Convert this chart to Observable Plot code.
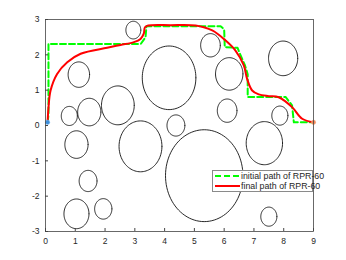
<!DOCTYPE html>
<html><head><meta charset="utf-8">
<script src="https://cdn.jsdelivr.net/npm/d3@7"></script>
<script src="https://cdn.jsdelivr.net/npm/@observablehq/plot@0.6"></script>
<style>
body{margin:0;background:#fff;}
#wrap{position:relative;width:346px;height:260px;font-family:"Liberation Sans",Arial,sans-serif;}
#legend{position:absolute;left:212px;top:170px;width:99px;height:20px;border:1px solid #8a8a8a;background:#fff;font-size:8.8px;color:#262626;}
.row{position:absolute;left:0;height:10px;width:100%;}
.row svg{position:absolute;left:1px;top:0;}
.row span{position:absolute;left:28px;top:0;line-height:10px;white-space:nowrap;}
</style></head>
<body><div id="wrap"><div id="chart"></div>
<div id="legend">
 <div class="row" style="top:0px"><svg width="27" height="10"><line x1="1" x2="26" y1="5" y2="5" stroke="#00ff00" stroke-width="2" stroke-dasharray="6,3"/></svg><span>initial path of RPR-60</span></div>
 <div class="row" style="top:10px"><svg width="27" height="10"><line x1="1" x2="26" y1="5" y2="5" stroke="#ff0000" stroke-width="2"/></svg><span>final path of RPR-60</span></div>
</div></div>
<script>
// obstacles: centers and radii
const circleX = [2.95, 1.12, 0.80, 1.47, 2.43, 4.15, 5.54, 6.17, 7.98, 6.10, 7.87, 4.38, 7.35, 5.33, 7.50, 1.04, 3.19, 1.43, 1.04, 1.94];
const circleY = [2.70, 1.44, 0.27, 0.38, 0.57, 1.35, 2.27, 1.46, 1.90, 0.42, 0.28, 0.00, -0.50, -1.42, -2.58, -0.54, -0.59, -1.57, -2.50, -2.36];
const circleR = [0.25, 0.36, 0.27, 0.39, 0.55, 0.90, 0.33, 0.46, 0.49, 0.33, 0.27, 0.30, 0.61, 1.30, 0.27, 0.39, 0.72, 0.30, 0.42, 0.29];

// initial (green dashed) path
const initialX = [0.07, 0.10, 0.10, 3.20, 3.36, 3.39, 5.88, 6.00, 6.02, 6.45, 6.52, 6.70, 6.79, 6.79, 8.06, 8.28, 8.34, 9.00];
const initialY = [0.09, 0.30, 2.31, 2.31, 2.50, 2.81, 2.81, 2.72, 2.22, 2.20, 2.05, 1.70, 1.45, 0.81, 0.81, 0.57, 0.09, 0.09];

// final (red) path
const finalX = [0.07, 0.10, 0.17, 0.39, 0.73, 1.18, 2.07, 2.52, 2.97, 3.19, 3.30, 3.34, 3.45, 4.20, 5.04, 5.60, 6.04, 6.38, 6.66, 6.77, 6.94, 7.16, 7.50, 7.83, 8.28, 8.62, 9.00];
const finalY = [0.09, 0.50, 0.99, 1.46, 1.79, 2.03, 2.20, 2.28, 2.36, 2.45, 2.60, 2.78, 2.83, 2.84, 2.83, 2.69, 2.41, 2.12, 1.70, 1.32, 0.99, 0.88, 0.83, 0.80, 0.52, 0.19, 0.09];

const startPoint = [0.07, 0.09];
const endPoint = [9.00, 0.09];

const xTicks = [0,1,2,3,4,5,6,7,8,9];
const yTicks = [-3,-2,-1,0,1,2,3];

const circlePts = [];
circleX.forEach((cx, i) => {
  for (let k = 0; k <= 96; k++) {
    const a = 2 * Math.PI * k / 96;
    circlePts.push({id: i, x: cx + circleR[i] * Math.cos(a), y: circleY[i] + circleR[i] * Math.sin(a)});
  }
});
const initial = initialX.map((x, i) => ({x, y: initialY[i]}));
const final = finalX.map((x, i) => ({x, y: finalY[i]}));

const chart = Plot.plot({
  width: 346, height: 260,
  marginLeft: 45, marginRight: 33, marginTop: 19, marginBottom: 29,
  style: {fontFamily: '"Liberation Sans", Arial, sans-serif', fontSize: "8.5px", color: "#262626", background: "#fff"},
  x: {domain: [0, 9]},
  y: {domain: [-3, 3]},
  marks: [
    Plot.line(circlePts, {x: "x", y: "y", z: "id", stroke: "#111", strokeWidth: 0.9}),
    Plot.line(initial, {x: "x", y: "y", stroke: "#00ff00", strokeWidth: 2, strokeDasharray: "6,3"}),
    Plot.line(final, {x: "x", y: "y", stroke: "#ff0000", strokeWidth: 2, curve: "catmull-rom"}),
    Plot.dot([startPoint], {x: d => d[0], y: d => d[1], r: 2.2, fill: "#3d8fdc", stroke: "#7fb8ee", strokeWidth: 0.5}),
    Plot.dot([endPoint], {x: d => d[0], y: d => d[1], r: 2.2, fill: "#f08a5d", stroke: "#f4a882", strokeWidth: 0.5}),
    Plot.frame({stroke: "#444", strokeWidth: 0.8}),
    Plot.axisX({ticks: xTicks, tickSize: -3, tickPadding: 9, tickFormat: d => String(d), stroke: "#444", label: null}),
    Plot.axisY({ticks: yTicks, tickSize: -3, tickPadding: 9, tickFormat: d => String(d), stroke: "#444", label: null})
  ]
});
document.getElementById("chart").appendChild(chart);
</script>
</body></html>
